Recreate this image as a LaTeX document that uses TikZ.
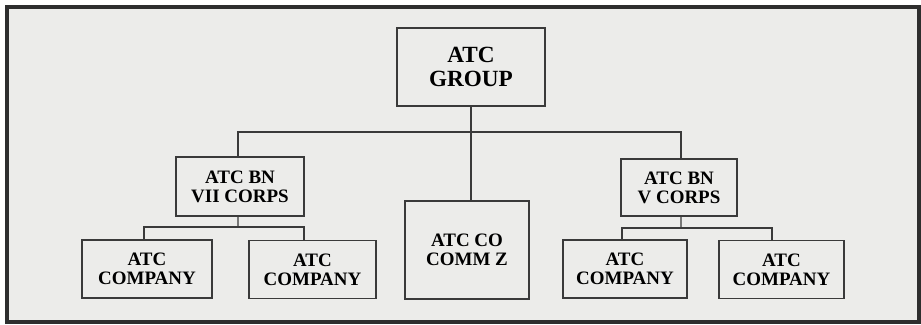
\documentclass[tikz,border=0pt]{standalone}
\usepackage{fontspec}
\setmainfont{Liberation Serif}
\usepackage{xcolor}
\usepackage{tikz}
\usetikzlibrary{positioning, calc}
\definecolor{chartbg}{HTML}{ECECEA}
\definecolor{chartline}{HTML}{3A3A3A}
\tikzset{
  orgbox/.style={
    draw=chartline, line width=0.9pt, align=center, fill=chartbg,
    font=\bfseries\fontsize{13.5}{13.5}\selectfont, inner sep=2pt,
    minimum width=3.15cm, minimum height=1.45cm
  },
  orgboxtop/.style={
    orgbox, font=\bfseries\fontsize{16.5}{16.5}\selectfont,
    minimum width=3.7cm, minimum height=1.95cm
  },
  orgline/.style={
    draw=chartline, line width=0.9pt
  },
  frameline/.style={
    draw=chartline!80!black, line width=2.4pt, fill=chartbg
  },
}

\begin{document}
\begin{tikzpicture}
  \useasboundingbox (0,0) rectangle (23.025,8.1);
  % Frame
  \draw[frameline] (0.175,0.05) rectangle (22.975,7.925);

  % Group
  \node[orgboxtop] (group) at (11.775,6.425) {ATC\\GROUP};

  % Battalions
  \node[orgbox, minimum width=3.2cm, minimum height=1.475cm]
    (bnvii) at (6.0,3.4375) {ATC BN\\VII CORPS};
  \node[orgbox, minimum width=2.9cm, minimum height=1.425cm]
    (bnv) at (16.975,3.4125) {ATC BN\\V CORPS};
  \node[orgbox, minimum width=3.1cm, minimum height=2.45cm]
    (commz) at (11.675,1.85) {ATC CO\\COMM Z};

  % Companies
  \node[orgbox, minimum width=3.25cm] (coa) at (3.675,1.375) {ATC\\COMPANY};
  \node[orgbox, minimum width=3.175cm] (cob) at (7.8125,1.365) {ATC\\COMPANY};
  \node[orgbox, minimum width=3.1cm] (coc) at (15.625,1.375) {ATC\\COMPANY};
  \node[orgbox, minimum width=3.125cm] (cod) at (19.5375,1.365) {ATC\\COMPANY};

  % Buses
  \coordinate (groupbus) at (11.775,4.8);
  \coordinate (viibus) at (5.95,2.425);
  \coordinate (vbus) at (17.025,2.4);

  % Connectors
  \draw[orgline] (group.south) -- (group.south |- commz.north);
  \draw[orgline] ([xshift=-0.05cm]bnvii.north) |- (groupbus)
    -| ([xshift=0.05cm]bnv.north);
  \draw[orgline] ([xshift=-0.05cm]bnvii.south) -- (viibus);
  \draw[orgline] ([xshift=-0.075cm]coa.north) |- (viibus)
    -| ([xshift=-0.21cm]cob.north);
  \draw[orgline] ([xshift=0.05cm]bnv.south) -- (vbus);
  \draw[orgline] ([xshift=-0.075cm]coc.north) |- (vbus)
    -| ([xshift=-0.24cm]cod.north);
\end{tikzpicture}
\end{document}
